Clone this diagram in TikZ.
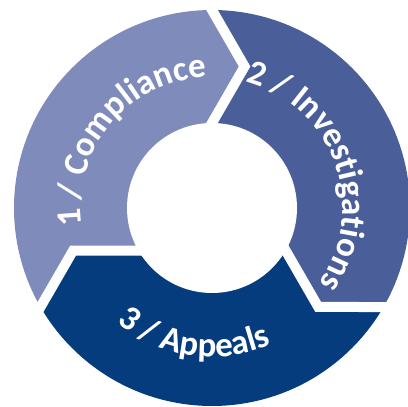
\documentclass[tikz,border=0pt]{standalone}
\usepackage{fontspec}
\setmainfont{Carlito}
\usetikzlibrary{calc,decorations.text}
\definecolor{segA}{RGB}{127,139,186}
\definecolor{segB}{RGB}{74,95,153}
\definecolor{segC}{RGB}{4,60,126}
\newcommand\lblfont{\fontsize{35}{35}\selectfont\bfseries\color{white}}
\begin{document}
\begin{tikzpicture}[x=1pt,y=1pt,
  gap/.style={white,line width=10pt,line join=miter},
  lbl/.style={decorate,decoration={text along path,text align=center,text={#1}}}]
\useasboundingbox (0,0) rectangle (408,407);
\clip (0,0) rectangle (408,407);
\coordinate (C) at (212,199);
\foreach \th/\nm in {90/a,330/b,210/c}{
  \coordinate (\nm-o) at ($(C)+(\th:260)+(\th+90:35.8)$);
  \coordinate (\nm-w) at ($(C)+(\th:210)+(\th+90:6.9)$);
  \coordinate (\nm-t) at ($(C)+(\th:141.5)+(\th-90:32.6)$);
  \coordinate (\nm-v) at ($(C)+(\th:75)+(\th+90:5.8)$);
  \coordinate (\nm-i) at ($(C)+(\th:40)+(\th+90:26)$);
}
\begin{scope}
\clip (C) circle[radius=198];
\fill[segA] (c-i) -- (c-t) -- (c-o) -- ($(C)+(170:320)$) -- ($(C)+(130:320)$) -- (a-o) -- (a-t) -- (a-i) -- (C) -- cycle;
\fill[segB] (a-i) -- (a-t) -- (a-o) -- ($(C)+(50:320)$) -- ($(C)+(10:320)$) -- (b-o) -- (b-t) -- (b-i) -- (C) -- cycle;
\fill[segC] (b-i) -- (b-t) -- (b-o) -- ($(C)+(290:320)$) -- ($(C)+(250:320)$) -- (c-o) -- (c-t) -- (c-i) -- (C) -- cycle;
\end{scope}
\foreach \nm in {a,b,c} \draw[gap] (\nm-w) -- (\nm-t) -- (\nm-v);
\fill[white] (C) circle[radius=85];
\path[lbl={|\lblfont|1 / Compliance}] ($(C)+(205:131)$) arc[start angle=205,end angle=75,radius=131];
\path[lbl={|\lblfont|2 / Investigations}] ($(C)+(85:131)$) arc[start angle=85,end angle=-45,radius=131];
\path[lbl={|\lblfont|3 / Appeals}] ($(C)+(212:149)$) arc[start angle=212,end angle=312,radius=149];
\end{tikzpicture}
\end{document}
